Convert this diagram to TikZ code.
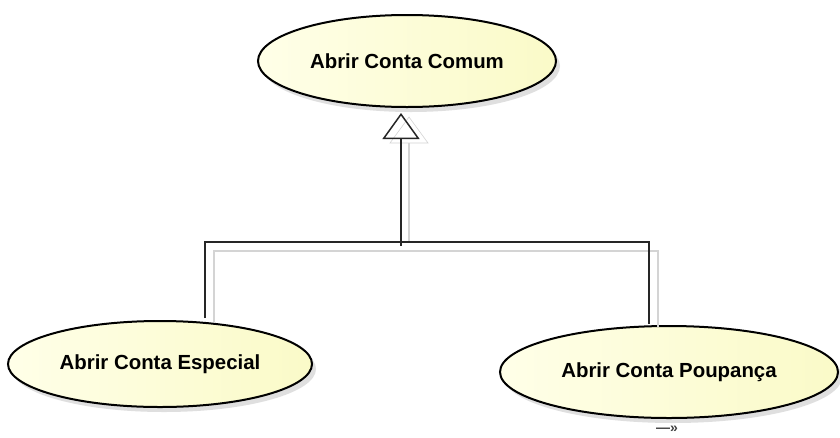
\documentclass[tikz,border=0pt]{standalone}
\usepackage{fontspec}
\setmainfont{Liberation Sans}
\usetikzlibrary{shapes.geometric,arrows.meta,shadows}
\definecolor{ucfill}{RGB}{250,250,200}
\definecolor{ucpale}{RGB}{255,255,232}
\definecolor{shadowline}{RGB}{212,212,212}
\tikzset{
  usecase/.style={ellipse, draw=black, line width=2pt, inner sep=0pt,
    left color=ucpale, middle color=white, right color=ucfill,
    font=\bfseries\fontsize{20.4}{24}\selectfont,
    drop shadow={shadow xshift=4pt, shadow yshift=-5pt, opacity=0.25, fill=gray}},
  genline/.style={draw=black!85, line width=1.5pt},
  genshadow/.style={draw=shadowline, line width=1.2pt},
  gentip/.style={-{Triangle[open, width=37pt, length=26pt, line width=1.5pt]}}
}
\begin{document}
\begin{tikzpicture}[x=1pt, y=-1pt]
  \useasboundingbox[fill=white] (0,0) rectangle (840,437);

  % use cases
  \node[usecase, minimum width=298pt, minimum height=92pt] (comum) at (407,61) {Abrir Conta Comum};
  \node[usecase, minimum width=304pt, minimum height=86pt] (espec) at (160,364) {Abrir Conta Especial};
  \node[usecase, minimum width=338pt, minimum height=92pt] (poup) at (669,372) {Abrir Conta Poupança};

  % junction points of the generalization tree
  \coordinate (barL) at (205,242);
  \coordinate (barR) at (649,242);
  \coordinate (joint) at (401,242);
  \coordinate (top) at (401,107);

  % soft shadows of the connectors
  \draw[genshadow] ([shift={(9,2)}]espec.north -| barL) -- ([shift={(9,9)}]barL) -- ([shift={(9,9)}]barR) -- ([shift={(9,2)}]poup.north -| barR);
  \draw[genshadow] ([shift={(8,0)}]joint) -- ([shift={(8,36)}]top);
  \draw[shadowline, line width=0.6pt] ([shift={(8,10)}]top) -- ([shift={(27,36)}]top) -- ([shift={(-11,36)}]top) -- cycle;

  % generalization connectors
  \draw[genline] ([yshift=2pt]espec.north -| barL) -- (barL) -- (barR) -- ([yshift=1pt]poup.north -| barR);
  \draw[genline, gentip, shorten >=5pt] ([yshift=-4pt]joint) -- (comum.south -| joint);

  % stereotype marker below the lower right use case
  \node[font=\bfseries\fontsize{14}{15}\selectfont, text=black!75, inner sep=0pt] (mark) at (667,429) {—»};
\end{tikzpicture}
\end{document}
